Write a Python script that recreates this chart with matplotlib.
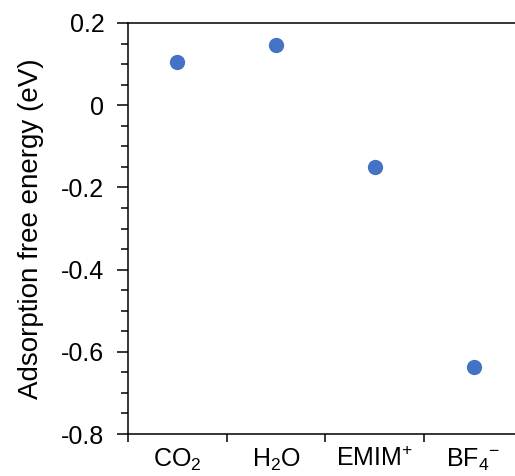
import numpy as np
import matplotlib
matplotlib.use('Agg')
import matplotlib.pyplot as plt
from matplotlib.ticker import MultipleLocator, FuncFormatter

# Data
species = ['CO$_2$', 'H$_2$O', 'EMIM$^{+}$', 'BF$_4$$^{\u2212}$']
energy = [0.104, 0.146, -0.151, -0.637]

plt.rcParams['font.family'] = ['Liberation Sans', 'DejaVu Sans']
plt.rcParams['mathtext.fontset'] = 'custom'
plt.rcParams['mathtext.rm'] = 'Liberation Sans'
plt.rcParams['mathtext.it'] = 'Liberation Sans'
plt.rcParams['axes.unicode_minus'] = False

fig = plt.figure(figsize=(5.15, 4.76), dpi=100)
ax = fig.add_axes([0.2485, 0.0882, 0.767, 0.8635])

x = np.arange(len(species))
ax.plot(x, energy, 'o', color='#4472C4', markersize=11, markeredgewidth=0)

ax.set_xlim(-0.5, len(species) - 0.5)
ax.set_ylim(-0.8, 0.2)
ax.set_xticks(x, species)
ax.set_xticks(np.arange(len(species) + 1) - 0.5, minor=True)
ax.tick_params(axis='x', which='major', length=0, labelsize=18, pad=9)
ax.tick_params(axis='x', which='minor', length=6, width=1.1, direction='out')

ax.yaxis.set_major_locator(MultipleLocator(0.2))
ax.yaxis.set_minor_locator(MultipleLocator(0.05))
ax.yaxis.set_major_formatter(FuncFormatter(lambda v, p: '0' if abs(v) < 1e-9 else f'{v:.1f}'))
ax.tick_params(axis='y', which='major', length=8, width=1.1, labelsize=18, pad=9)
ax.tick_params(axis='y', which='minor', length=5, width=1.1)

for s in ['left', 'bottom', 'top', 'right']:
    ax.spines[s].set_linewidth(1.1)

ax.set_ylabel('Adsorption free energy (eV)', fontsize=20, labelpad=12)

fig.savefig('out.png', dpi=100)
